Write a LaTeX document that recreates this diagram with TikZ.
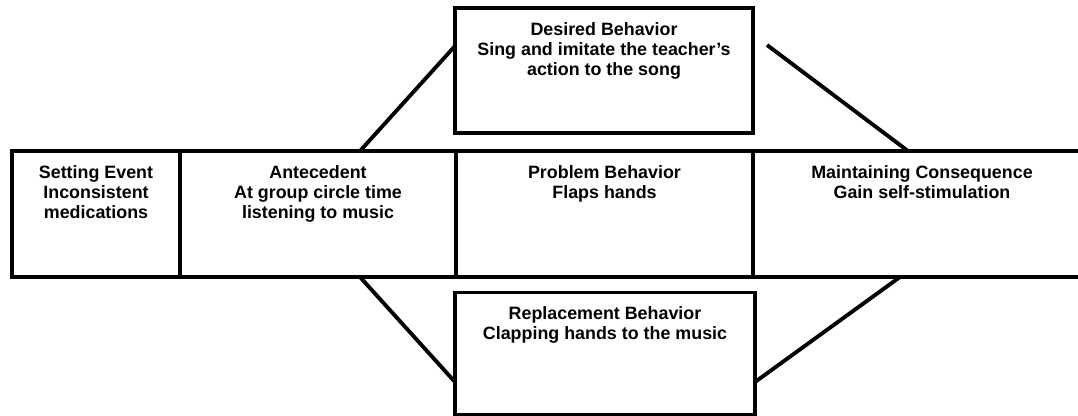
\documentclass[tikz,border=0pt]{standalone}
\usepackage{fontspec}
\setmainfont{Liberation Sans}
\begin{document}
\begin{tikzpicture}[x=0.75pt,y=-0.75pt,
  cell/.style={rectangle, inner sep=0pt, outer sep=0pt, line width=2.9pt},
  drawn/.style={cell, draw},
  txt/.style={anchor=north, align=center, inner sep=0pt, yshift=-10.5pt,
    font=\fontsize{13.4}{15}\selectfont\bfseries},
  link/.style={line width=2.9pt}]
\useasboundingbox (0,0) rectangle (1078,416);
% main row
\node[drawn, minimum width=126pt, minimum height=94.5pt] (set) at (96,214) {};
\node[drawn, minimum width=207pt, minimum height=94.5pt] (ant) at (318,214) {};
\node[drawn, minimum width=222.75pt, minimum height=94.5pt] (prob) at (604.5,214) {};
\node[cell, minimum width=243.75pt, minimum height=94.5pt] (cons) at (915.5,214) {};
\draw[link] (cons.north west) -- (cons.north east);
\draw[link] (cons.south west) -- (cons.south east);
% upper and lower boxes
\node[drawn, minimum width=223.5pt, minimum height=93.75pt] (des) at (604,70.5) {};
\node[drawn, minimum width=225pt, minimum height=91.5pt] (rep) at (605,353.5) {};
% texts
\node[txt] (setT) at (set.north) {Setting Event\\Inconsistent\\medications};
\node[txt] (antT) at (ant.north) {Antecedent\\At group circle time\\listening to music};
\node[txt] (probT) at (prob.north) {Problem Behavior\\Flaps hands};
\node[txt] (consT) at (922,151) {Maintaining Consequence\\Gain self-stimulation};
\node[txt] (desT) at (des.north) {Desired Behavior\\Sing and imitate the teacher’s\\action to the song};
\node[txt] (repT) at (rep.north) {Replacement Behavior\\Clapping hands to the music};
% connectors
\coordinate (ulA) at (360,151);
\coordinate (ulB) at (455,46);
\coordinate (urA) at (767,45);
\coordinate (urB) at (908,151);
\coordinate (llA) at (360,277);
\coordinate (llB) at (455,382);
\coordinate (lrA) at (755,382);
\coordinate (lrB) at (900,277);
\draw[link] (ulA) -- (ulB);
\draw[link] (urA) -- (urB);
\draw[link] (llA) -- (llB);
\draw[link] (lrA) -- (lrB);
\end{tikzpicture}
\end{document}
